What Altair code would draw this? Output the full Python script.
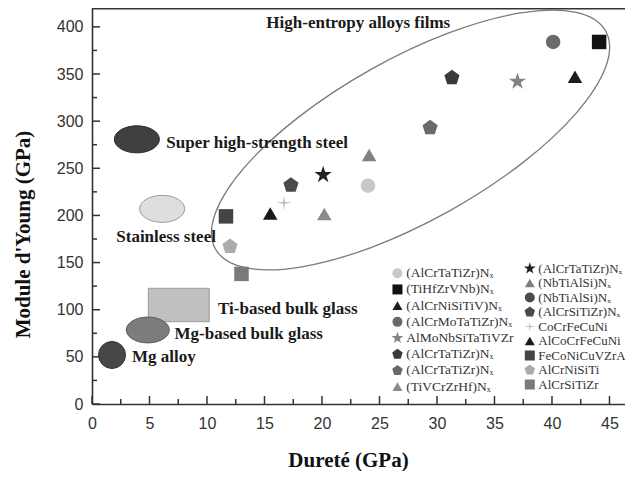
import altair as alt
import pandas as pd

# ---------------- axis values ----------------
x_major = [0, 5, 10, 15, 20, 25, 30, 35, 40, 45]
x_minor = [2.5, 7.5, 12.5, 17.5, 22.5, 27.5, 32.5, 37.5, 42.5]
y_major = [0, 50, 100, 150, 200, 250, 300, 350, 400]
y_minor = [25, 75, 125, 175, 225, 275, 325, 375]

# ---------------- series (left legend column) ----------------
left_ids = ["L1", "L2", "L3", "L4", "L5", "L6", "L7", "L8"]
left_labels = ["(AlCrTaTiZr)Nₓ", "(TiHfZrVNb)Nₓ", "(AlCrNiSiTiV)Nₓ", "(AlCrMoTaTiZr)Nₓ",
               "AlMoNbSiTaTiVZr", "(AlCrTaTiZr)Nₓ", "(AlCrTaTiZr)Nₓ", "(TiVCrZrHf)Nₓ"]
left_x = [24.0, 44.1, 42.0, 40.1, 37.0, 31.3, 29.4, 20.2]
left_y = [231.5, 384, 347, 384, 342, 346, 293, 201.5]

# ---------------- series (right legend column) ----------------
right_ids = ["R1", "R2", "R3", "R4", "R5", "R6", "R7", "R8", "R9"]
right_labels = ["(AlCrTaTiZr)Nₓ", "(NbTiAlSi)Nₓ", "(NbTiAlSi)Nₓ", "(AlCrSiTiZr)Nₓ",
                "CoCrFeCuNi", "AlCoCrFeCuNi", "FeCoNiCuVZrAl", "AlCrNiSiTi", "AlCrSiTiZr"]
right_x = [20.1, 24.1, None, 17.3, 16.7, 15.5, 11.65, 12.0, 13.0]
right_y = [243, 264, None, 232, 213.5, 202, 199, 167, 138]

# ---------------- material regions ----------------
region_names = ["Super high-strength steel", "Stainless steel", "Mg-based bulk glass", "Mg alloy"]
region_cx = [3.9, 6.1, 4.85, 1.74]
region_cy = [280.7, 207, 78.5, 52]
ti_glass_hardness = [4.9, 10.2]
ti_glass_modulus = [87.3, 122.7]
hea_center = [27.7, 280]

label_texts = ["High-entropy alloys films", "Super high-strength steel", "Stainless steel",
               "Ti-based bulk glass", "Mg-based bulk glass", "Mg alloy"]
label_x = [15.16, 6.46, 2.11, 10.96, 7.18, 3.48]
label_y = [404.3, 277.1, 176.8, 100.4, 73.9, 50.2]

# ---------------- styles ----------------
PENT = "M 0 -1.1 L 1.046 -0.34 L 0.647 0.89 L -0.647 0.89 L -1.046 -0.34 Z"
STAR = ("M 0 -1.25 L 0.281 -0.386 L 1.189 -0.386 L 0.454 0.148 L 0.735 1.011 L 0 0.478 "
        "L -0.735 1.011 L -0.454 0.148 L -1.189 -0.386 L -0.281 -0.386 Z")
PLUS = "M 0 -1.1 L 0.13 -0.13 L 1.1 0 L 0.13 0.13 L 0 1.1 L -0.13 0.13 L -1.1 0 L -0.13 -0.13 Z"
ELL = "M -1 0 A 1 0.6 0 1 0 1 0 A 1 0.6 0 1 0 -1 0 Z"
ELL_BIG = "M -1 0 A 1 0.362 0 1 0 1 0 A 1 0.362 0 1 0 -1 0 Z"

left_shapes = ["circle", "square", "triangle-up", "circle", STAR, PENT, PENT, "triangle-up"]
left_colors = ["#c8c8c8", "#111111", "#1c1c1c", "#6a6a6a", "#828282", "#3a3a3a", "#6a6a6a", "#8a8a8a"]
right_shapes = [STAR, "triangle-up", "circle", PENT, PLUS, "triangle-up", "square", PENT, "square"]
right_colors = ["#222222", "#808080", "#4a4a4a", "#4a4a4a", "#c0c0c0", "#1a1a1a", "#444444", "#ababab", "#7a7a7a"]

region_style = [
    dict(shape=ELL, size=45 ** 2, fill="#404040", stroke="#2a2a2a"),
    dict(shape=ELL, size=45 ** 2, fill="#dedede", stroke="#9a9a9a"),
    dict(shape=ELL, size=43 ** 2, fill="#7c7c7c", stroke="#5a5a5a"),
    dict(shape="circle", size=27 ** 2, fill="#474747", stroke="#333333"),
]

W, H = 533, 396
SERIF = "Liberation Serif"
SANS = "Liberation Sans"

xscale = alt.Scale(domain=[0, 46.35], nice=False, zero=False)
yscale = alt.Scale(domain=[0, 420], nice=False, zero=False)
xaxis = alt.Axis(values=x_major, title="Dureté (GPa)", orient="bottom", grid=False, ticks=False, tickSize=0,
                 labelPadding=11, labelFont=SANS, labelFontSize=16, labelColor="#333333",
                 domainColor="#333333", domainWidth=1.6, titleFont=SERIF, titleFontSize=21,
                 titleFontWeight="bold", titleColor="#111111", titleX=256, titleY=56,
                 titleBaseline="middle", titleAlign="center", labelFlush=False)
yaxis = alt.Axis(values=y_major, title="Module d'Young (GPa)", orient="left", grid=False, ticks=False, tickSize=0,
                 labelPadding=9, labelFont=SANS, labelFontSize=16, labelColor="#333333",
                 domainColor="#333333", domainWidth=1.6, titleFont=SERIF, titleFontSize=21,
                 titleFontWeight="bold", titleColor="#111111", titleX=-69, titleY=226,
                 titleAngle=270, titleBaseline="middle", titleAlign="center", labelFlush=False)


def X(f="x"):
    return alt.X(f"{f}:Q", scale=xscale, axis=xaxis)


def Y(f="y"):
    return alt.Y(f"{f}:Q", scale=yscale, axis=yaxis)


layers = []

# Ti-based bulk glass rectangle
ti_df = pd.DataFrame({"x": [ti_glass_hardness[0]], "x2": [ti_glass_hardness[1]],
                      "y": [ti_glass_modulus[0]], "y2": [ti_glass_modulus[1]]})
layers.append(alt.Chart(ti_df).mark_rect(fill="#c0c0c0", stroke="#9a9a9a", strokeWidth=1).encode(
    x=X(), x2="x2:Q", y=Y(), y2="y2:Q"))

# region ellipses
for i, st in enumerate(region_style):
    rdf = pd.DataFrame({"x": [region_cx[i]], "y": [region_cy[i]], "name": [region_names[i]]})
    layers.append(alt.Chart(rdf).mark_point(shape=st["shape"], size=st["size"], filled=True,
                                            fill=st["fill"], stroke=st["stroke"], strokeWidth=1,
                                            opacity=1).encode(x=X(), y=Y()))

# high-entropy films ellipse
hdf = pd.DataFrame({"x": [hea_center[0]], "y": [hea_center[1]]})
layers.append(alt.Chart(hdf).mark_point(shape=ELL_BIG, size=447 ** 2, angle=330.8, filled=False,
                                        stroke="#7a7a7a", strokeWidth=1.3, opacity=1).encode(
    x=X(), y=Y()))

# inward ticks
layers.append(alt.Chart(pd.DataFrame({"x": x_major})).mark_rule(color="#333333", strokeWidth=1.5).encode(
    x=X(), y=alt.value(H), y2=alt.value(H - 8)))
layers.append(alt.Chart(pd.DataFrame({"x": x_minor})).mark_rule(color="#333333", strokeWidth=1.5).encode(
    x=X(), y=alt.value(H), y2=alt.value(H - 5)))
layers.append(alt.Chart(pd.DataFrame({"y": y_major})).mark_rule(color="#333333", strokeWidth=1.5).encode(
    y=Y(), x=alt.value(0), x2=alt.value(8)))
layers.append(alt.Chart(pd.DataFrame({"y": y_minor})).mark_rule(color="#333333", strokeWidth=1.5).encode(
    y=Y(), x=alt.value(0), x2=alt.value(5)))
# top frame line
layers.append(alt.Chart(pd.DataFrame({"y": [0]})).mark_rule(color="#333333", strokeWidth=1.6).encode(
    x=alt.value(0), x2=alt.value(W), y=alt.value(0.8)))

# region labels
tdf = pd.DataFrame({"x": label_x, "y": label_y, "t": label_texts})
layers.append(alt.Chart(tdf).mark_text(align="left", baseline="middle", font=SERIF, fontWeight="bold",
                                       fontSize=17, color="#1a1a1a").encode(x=X(), y=Y(), text="t:N"))


def label_expr(ids, labels):
    a = "[" + ",".join(f"'{i}'" for i in ids) + "]"
    b = "[" + ",".join(f"'{l}'" for l in labels) + "]"
    return f"{b}[indexof({a}, datum.label)]"


def legend(lx, ly, ids, labels, rowpad, fs):
    return alt.Legend(orient="none", legendX=lx, legendY=ly, padding=0, labelExpr=label_expr(ids, labels),
                      symbolSize=100, symbolStrokeWidth=0, labelFont=SERIF, labelFontSize=fs,
                      labelColor="#333333", labelOffset=2, rowPadding=rowpad, labelLimit=300)


ldf = pd.DataFrame({"id": left_ids, "x": left_x, "y": left_y})
lleg = legend(298.7, 258.5, left_ids, left_labels, 1.2, 13.5)
layers.append(alt.Chart(ldf).mark_point(filled=True, opacity=1, size=210).encode(
    x=X(), y=Y(),
    color=alt.Color("id:N", scale=alt.Scale(domain=left_ids, range=left_colors), legend=lleg, title=None),
    shape=alt.Shape("id:N", scale=alt.Scale(domain=left_ids, range=left_shapes), legend=lleg, title=None)))

rdf = pd.DataFrame({"id": right_ids, "x": right_x, "y": right_y}).dropna()
rleg = legend(431.3, 254.0, right_ids, right_labels, 0.5, 13)
layers.append(alt.Chart(rdf).mark_point(filled=True, opacity=1, size=210).encode(
    x=X(), y=Y(),
    color=alt.Color("id:N", scale=alt.Scale(domain=right_ids, range=right_colors), legend=rleg, title=None),
    shape=alt.Shape("id:N", scale=alt.Scale(domain=right_ids, range=right_shapes), legend=rleg, title=None)))

chart = alt.layer(*layers).resolve_scale(color="independent", shape="independent").properties(
    width=W, height=H, padding={"left": 84, "top": 0, "right": 0, "bottom": 67},
    autosize=alt.AutoSizeParams(type="none"), background="white"
).configure_view(stroke=None)

chart.save("out.html", embed_options={"renderer": "svg", "actions": False})
